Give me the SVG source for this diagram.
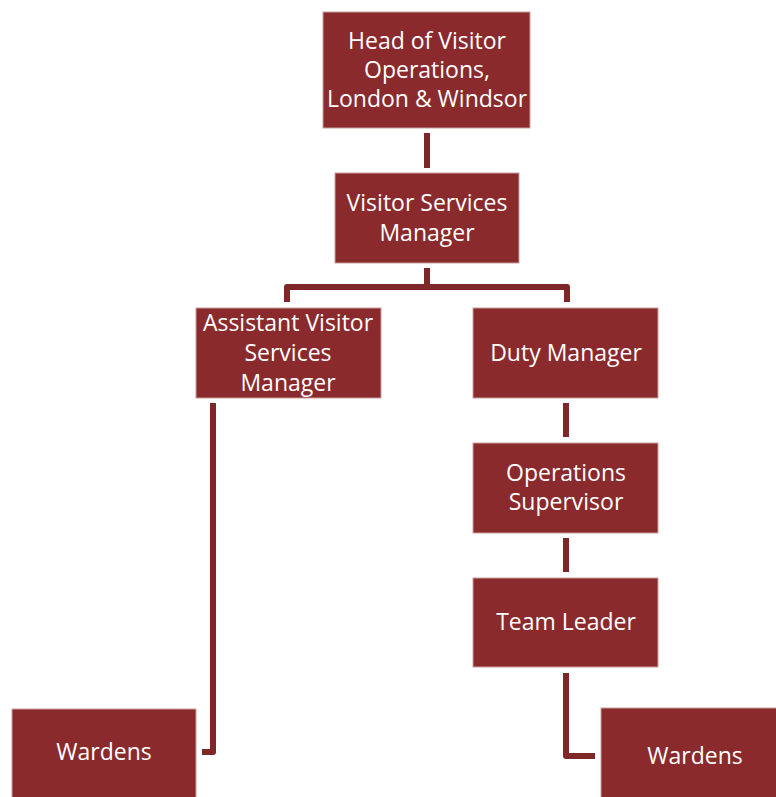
<svg xmlns="http://www.w3.org/2000/svg" width="776" height="797" viewBox="0 0 776 797">
<style>
.box{fill:#8A2A2D;stroke:#C9A0A0;stroke-width:1}
.t{fill:#fff;font-family:"Open Sans","Liberation Sans",sans-serif;font-size:23px;text-anchor:middle}
.c{fill:none;stroke:#7F2629;stroke-width:6;stroke-linejoin:round}
</style>
<rect width="776" height="797" fill="#fff"/>
<g id="connectors">
<path class="c" d="M427 133V168"/>
<path class="c" d="M427 268V287M287 302V287H567V302"/>
<path class="c" d="M213 403V752H202"/>
<path class="c" d="M566 403V437"/>
<path class="c" d="M566 538V572"/>
<path class="c" d="M566 673V756H595"/>
</g>
<g id="head"><rect class="box" x="323" y="12" width="207" height="116"/>
<text class="t" x="427" y="49">Head of Visitor</text><text class="t" x="427" y="78">Operations,</text><text class="t" x="427" y="107">London &amp; Windsor</text></g>
<g id="vsm"><rect class="box" x="335" y="173" width="184" height="90"/>
<text class="t" x="427" y="211">Visitor Services</text><text class="t" x="427" y="241">Manager</text></g>
<g id="avsm"><rect class="box" x="196" y="308" width="185" height="90"/>
<text class="t" x="288" y="331">Assistant Visitor</text><text class="t" x="288" y="361">Services</text><text class="t" x="288" y="391">Manager</text></g>
<g id="duty"><rect class="box" x="473" y="308" width="185" height="90"/>
<text class="t" x="566" y="361">Duty Manager</text></g>
<g id="ops"><rect class="box" x="473" y="443" width="185" height="90"/>
<text class="t" x="566" y="481">Operations</text><text class="t" x="566" y="510">Supervisor</text></g>
<g id="team"><rect class="box" x="473" y="578" width="185" height="89"/>
<text class="t" x="566" y="630">Team Leader</text></g>
<g id="wardens-left"><rect class="box" x="12" y="709" width="184" height="95"/>
<text class="t" x="104" y="760">Wardens</text></g>
<g id="wardens-right"><rect class="box" x="601" y="708" width="185" height="95"/>
<text class="t" x="695" y="764">Wardens</text></g>
</svg>
